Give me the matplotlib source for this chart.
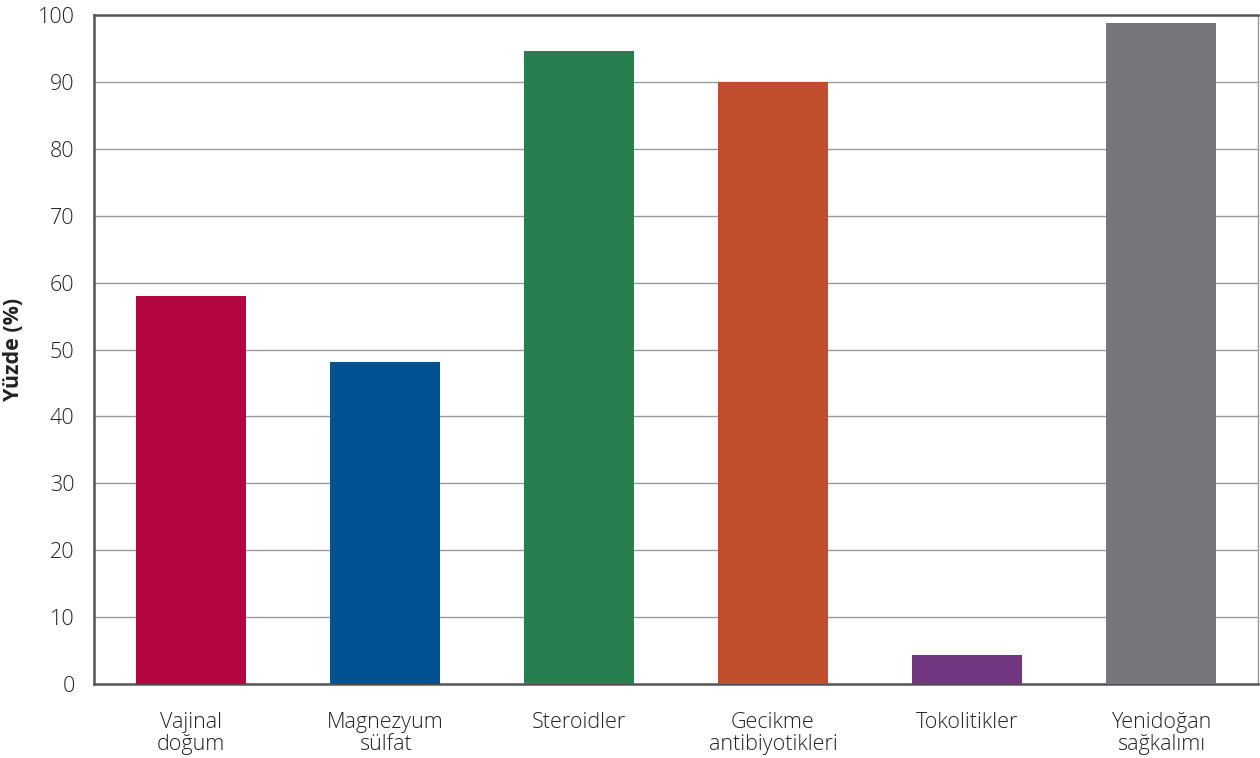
import matplotlib
matplotlib.use("Agg")
import matplotlib.pyplot as plt

categories = ["Vajinal\ndoğum", "Magnezyum\nsülfat", "Steroidler", "Gecikme\nantibiyotikleri", "Tokolitikler", "Yenidoğan\nsağkalımı"]
values = [58.0, 48.2, 94.6, 90.0, 4.3, 98.8]
colors = ["#B30541", "#005293", "#277F50", "#C04E2C", "#71367F", "#77777B"]
yticks = [0, 10, 20, 30, 40, 50, 60, 70, 80, 90, 100]

plt.rcParams['font.family'] = ['Open Sans', 'DejaVu Sans']

fig = plt.figure(figsize=(12.6, 7.58), dpi=100)
ax = fig.add_axes([94/1260, 1 - 684/758, (1258-94)/1260, (684-15)/758])

x = list(range(len(categories)))
ax.bar(x, values, width=0.567, color=colors, zorder=3)

ax.set_xlim(-0.5, len(categories) - 0.5)
ax.set_ylim(0, 100)
ax.set_yticks(yticks)
ax.set_yticklabels([str(t) for t in yticks], fontsize=15.5, color="#222222", fontweight='light')
ax.set_xticks(x)
ax.set_xticklabels(categories, fontsize=15.5, color="#222222", linespacing=1.1, fontweight='light')
ax.tick_params(axis='y', length=0, pad=14)
ax.tick_params(axis='x', length=0, pad=20)

for t in yticks[1:-1]:
    ax.axhline(t, color="#999999", linewidth=1.0, zorder=1)

for s in ['left', 'bottom', 'top']:
    ax.spines[s].set_color("#555555")
    ax.spines[s].set_linewidth(1.8)
ax.spines['right'].set_color("#999999")
ax.spines['right'].set_linewidth(1.0)

ax.set_ylabel("Yüzde (%)", fontsize=15.5, fontweight='bold', color="#222222", labelpad=10)

fig.savefig("out.png", dpi=100)
